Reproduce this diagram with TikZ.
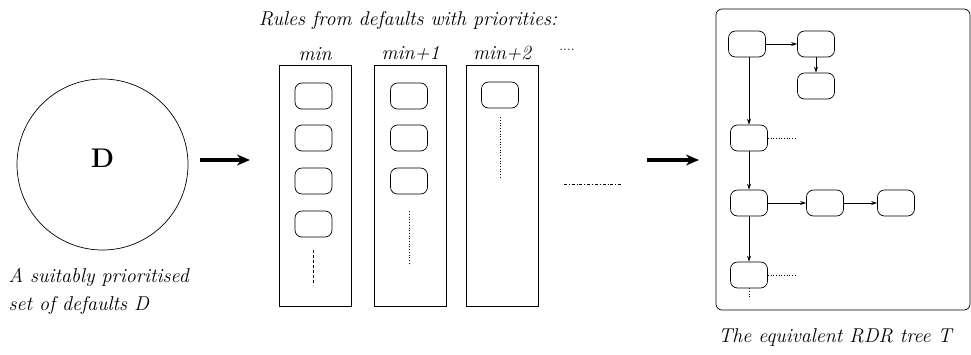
\documentclass[tikz,border=0pt]{standalone}
\usetikzlibrary{arrows.meta,positioning}

\begin{document}
\begin{tikzpicture}[
        x=1pt, y=-1pt,
        every node/.style={font=\fontsize{20}{24}\selectfont\itshape},
        regra/.style={draw, rounded corners=7pt, minimum width=37pt, minimum height=26pt, inner sep=0pt},
        coluna/.style={draw, minimum width=72pt, minimum height=241pt, inner sep=0pt},
        setagrossa/.style={line width=3.5pt, -{Stealth[length=13pt,width=11pt]}},
        seta/.style={-{Stealth[length=6pt,width=4pt]}},
        line width=0.7pt
    ]
        \useasboundingbox (0,0) rectangle (971,354);

        %--------------------------------
        % defaults D
        %--------------------------------
        \node[draw, circle, minimum size=171pt, inner sep=0pt] (D) at (102.5,164.5) {};
        \node[font=\fontsize{27}{30}\selectfont\bfseries] (Dlabel) at (102.5,158) {D};
        \node[align=left, anchor=west, font=\fontsize{20}{28}\selectfont\itshape] (Dtexto) at (5,291)
            {A suitably prioritised\\set of defaults D};

        \coordinate (s1a) at (200,160);
        \coordinate (s1b) at (250,160);
        \draw[setagrossa] (s1a) -- (s1b);

        %--------------------------------
        % rules with priorities
        %--------------------------------
        \node (titulo) at (408,20) {Rules from defaults with priorities:};

        \node[coluna] (c1) at (315,185.5) {};
        \node[coluna] (c2) at (410.5,185.5) {};
        \node[coluna] (c3) at (502,185.5) {};

        \node[above=0pt of c1.north] (l1) {min};
        \node[above=0pt of c2.north] (l2) {min+1};
        \node[above=0pt of c3.north] (l3) {min+2};
        \node[font=\fontsize{14}{16}\selectfont] (l4) at (567,50) {....};

        \foreach \y/\v in {96/1,138/2,181/3,224/4}
            \node[regra] (a\v) at (313.5,\y) {};

        \foreach \y/\v in {96/1,138/2,181/3}
            \node[regra] (b\v) at (409,\y) {};

        \node[regra] (e1) at (500,95) {};

        \draw[dashed, dash pattern=on 3pt off 2pt] ([yshift=-13pt]a4.south) -- ++(0,35);
        \draw[dotted] ([yshift=-17pt]b3.south) -- ++(0,54);
        \draw[dotted] ([yshift=-9pt]e1.south) -- ++(0,60);

        \coordinate (r1) at (564,184);
        \coordinate (r2) at (622,184);
        \draw[dash dot] (r1) -- (r2);

        \coordinate (s2a) at (647,160);
        \coordinate (s2b) at (699,160);
        \draw[setagrossa] (s2a) -- (s2b);

        %--------------------------------
        % RDR tree T
        %--------------------------------
        \node[draw, rounded corners=6pt, minimum width=254pt, minimum height=301pt, inner sep=0pt] (T) at (843,159.5) {};
        \node (Ttexto) at (835,337) {The equivalent RDR tree T};

        \node[regra] (n1) at (747,44) {};
        \node[regra] (n2) at (816,44) {};
        \node[regra] (n3) at (816,86) {};
        \node[regra] (n4) at (749,138) {};
        \node[regra] (n5) at (749,203) {};
        \node[regra] (n6) at (825,203) {};
        \node[regra] (n7) at (896,203) {};
        \node[regra] (n8) at (749,275) {};

        \draw[seta] (n1) -- (n2);
        \draw[seta] (n2) -- (n3);
        \draw[seta] (n1.south -| n4) -- (n4);
        \draw[seta] (n4) -- (n5);
        \draw[seta] (n5) -- (n6);
        \draw[seta] (n6) -- (n7);
        \draw[seta] (n5) -- (n8);

        \draw[dotted] (n4.east) -- ++(29,0);
        \draw[dotted] (n8.east) -- ++(29,0);
        \draw[dotted] (n8.south) -- ++(0,9);

    \end{tikzpicture}
\end{document}
